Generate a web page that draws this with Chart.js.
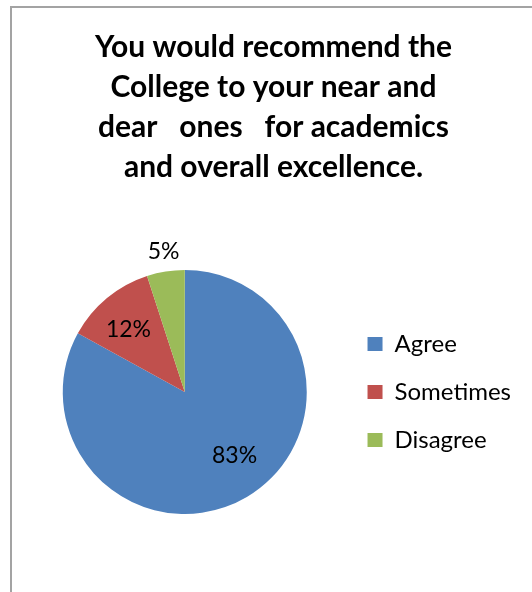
<!DOCTYPE html>
<html>
<head>
<meta charset="utf-8">
<script src="https://cdn.jsdelivr.net/npm/chart.js@4/dist/chart.umd.min.js"></script>
<style>
  html, body { margin: 0; padding: 0; background: #ffffff; overflow: hidden; }
  #wrap { position: relative; width: 532px; height: 592px; }
  #frame { position: absolute; left: 10px; top: 6px; width: 600px; height: 700px;
           border-left: 2px solid #a3a3a3; border-top: 2px solid #a3a3a3; pointer-events: none; }
  canvas { position: absolute; left: 0; top: 0; }
</style>
</head>
<body>
<div id="wrap">
  <div id="frame"></div>
  <canvas id="c" width="532" height="592"></canvas>
</div>
<script>
// ---- data ----
const titleLines = ['You would recommend the', 'College to your near and', 'dear   ones   for academics', 'and overall excellence.'];
const categories = ['Agree', 'Sometimes', 'Disagree'];
const values = [83, 12, 5];
const colors = ['#4F81BD', '#C0504D', '#9BBB59'];

// label placement (radius factor, angle shift in degrees) per slice
const labelPlacement = [
  { r: 0.663, shift: -7.4 },
  { r: 0.69, shift: -2.4 },
  { r: 1.16, shift: 0.4 }
];

const pctLabels = {
  id: 'pctLabels',
  afterDatasetsDraw(chart) {
    const ctx = chart.ctx;
    const meta = chart.getDatasetMeta(0);
    const data = chart.data.datasets[0].data;
    const total = data.reduce((a, b) => a + b, 0);
    ctx.save();
    ctx.font = '23px Lato';
    ctx.fillStyle = '#000000';
    ctx.textAlign = 'center';
    ctx.textBaseline = 'middle';
    meta.data.forEach((arc, i) => {
      const p = arc.getProps(['x', 'y', 'startAngle', 'endAngle', 'outerRadius'], true);
      const pl = labelPlacement[i];
      const a = (p.startAngle + p.endAngle) / 2 + pl.shift * Math.PI / 180;
      const r = p.outerRadius * pl.r;
      const tx = p.x + Math.cos(a) * r;
      const ty = p.y + Math.sin(a) * r;
      ctx.fillText(Math.round(data[i] / total * 100) + '%', tx, ty);
    });
    ctx.restore();
  }
};

new Chart(document.getElementById('c'), {
  type: 'pie',
  data: {
    labels: categories,
    datasets: [{
      data: values,
      backgroundColor: colors,
      borderWidth: 0,
      hoverOffset: 0
    }]
  },
  options: {
    responsive: false,
    animation: false,
    devicePixelRatio: 1,
    layout: { padding: { left: 26, right: 11, top: 0, bottom: 78 } },
    plugins: {
      title: {
        display: true,
        text: titleLines,
        color: '#000000',
        font: { family: 'Lato', weight: 'bold', size: 30, lineHeight: '40px' },
        padding: { top: 27, bottom: 83 }
      },
      legend: {
        display: true,
        position: 'right',
        align: 'center',
        fullSize: false,
        labels: {
          color: '#000000',
          font: { family: 'Lato', size: 24 },
          boxWidth: 15,
          boxHeight: 14,
          padding: 24
        }
      },
      tooltip: { enabled: false }
    }
  },
  plugins: [pctLabels]
});
</script>
</body>
</html>
